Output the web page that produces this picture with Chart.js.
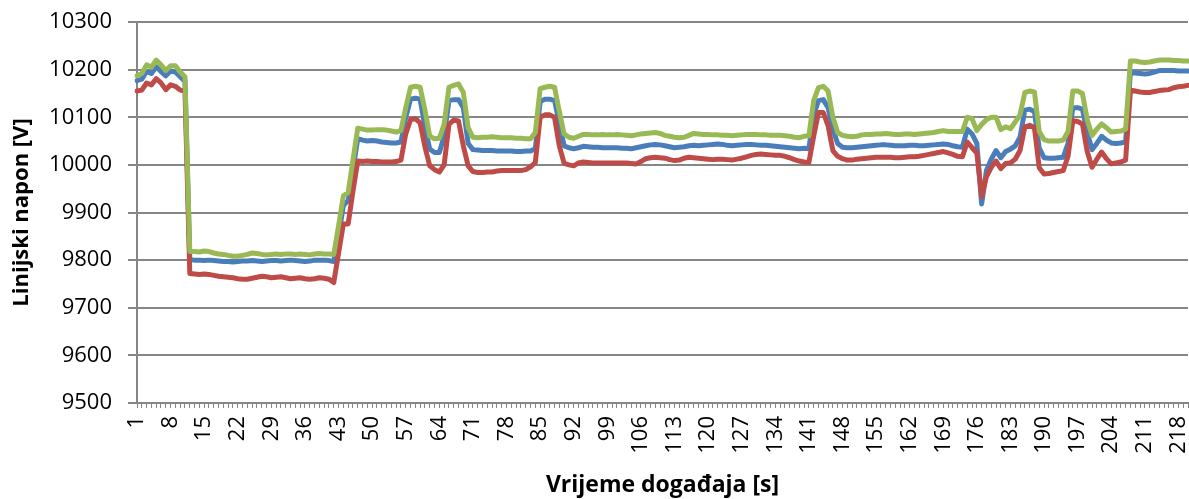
<!DOCTYPE html>
<html>
<head>
<meta charset="utf-8">
<script src="https://cdn.jsdelivr.net/npm/chart.js@4.4.1/dist/chart.umd.min.js"></script>
<style>
  html, body { margin: 0; padding: 0; background: #ffffff; }
  #wrap { width: 1189px; height: 499px; position: relative; }
</style>
</head>
<body>
<div id="wrap"><canvas id="chart"></canvas></div>
<script>
// Event time axis: one category per second, 1 .. 220
const seconds = [];
for (let s = 1; s <= 220; s++) seconds.push(String(s));

// Voltage ticks on the y axis
const yTicks = [9500, 9600, 9700, 9800, 9900, 10000, 10100, 10200, 10300];

// Line voltage, phase 1 (blue)
const naponL1 = [
  10177, 10180, 10196, 10192, 10206, 10196, 10187, 10197, 10195, 10185, 10175,
  9801, 9800, 9800, 9799, 9800, 9799, 9798, 9797, 9797, 9796,
  9797, 9798, 9798, 9799, 9798, 9797, 9798, 9799, 9799, 9798,
  9799, 9800, 9799, 9798, 9797, 9798, 9800, 9800, 9800, 9799, 9797,
  9850, 9915, 9925, 9990, 10055,
  10052, 10050, 10051, 10050, 10048, 10047, 10046, 10046, 10048,
  10100, 10138, 10140, 10138, 10080, 10033, 10026, 10026, 10060, 10135, 10137, 10137, 10120, 10045, 10032, 10031,
  10030, 10030, 10030, 10029, 10029, 10029, 10029, 10028, 10028, 10029, 10029,
  10034, 10133, 10138, 10138, 10135, 10088, 10040,
  10036, 10034, 10036, 10039, 10038, 10037, 10037, 10036, 10036, 10036,
  10036, 10035, 10035, 10034, 10036, 10038, 10040, 10042, 10043, 10042,
  10040, 10038, 10036, 10037, 10038, 10040, 10041, 10040, 10041, 10042,
  10043, 10044, 10043, 10041, 10040, 10041, 10042, 10043, 10043, 10042,
  10041, 10041, 10040, 10039, 10038, 10037, 10036, 10035, 10034, 10035, 10034,
  10105, 10135, 10137, 10120, 10075, 10045,
  10037, 10036, 10036, 10037, 10038, 10039, 10040, 10041, 10042, 10042,
  10041, 10040, 10040, 10040, 10041, 10041, 10040, 10040, 10041, 10042,
  10043, 10044, 10043, 10040, 10038,
  10037, 10075, 10065, 10045, 9918, 9988, 10012, 10030, 10015, 10028,
  10033, 10040, 10058, 10115, 10117, 10112, 10035, 10015, 10014, 10014,
  10015, 10016, 10045, 10120, 10120, 10117, 10068, 10032, 10045, 10060,
  10052, 10046, 10045, 10046, 10048,
  10195, 10193, 10192, 10191, 10192, 10195, 10198, 10198, 10198, 10198, 10197, 10197, 10197
];

// Line voltage, phase 2 (red)
const naponL2 = [
  10155, 10157, 10172, 10168, 10181, 10172, 10158, 10168, 10165, 10157, 10155,
  9772, 9771, 9770, 9771, 9770, 9768, 9766, 9765, 9764, 9763,
  9761, 9760, 9760, 9762, 9764, 9766, 9765, 9763, 9764, 9765,
  9763, 9761, 9762, 9763, 9761, 9760, 9761, 9763, 9762, 9760, 9753,
  9814, 9876, 9876, 9945, 10008,
  10007, 10008, 10007, 10007, 10006, 10006, 10006, 10007, 10010,
  10065, 10095, 10097, 10088, 10038, 9998, 9990, 9985, 10000, 10085, 10094, 10092, 10040, 9998, 9986, 9984,
  9984, 9985, 9985, 9987, 9988, 9988, 9988, 9988, 9988, 9990, 9996,
  10005, 10100, 10105, 10105, 10100, 10040, 10003,
  10000, 9998, 10004, 10006, 10005, 10004, 10004, 10004, 10004, 10004,
  10004, 10004, 10004, 10003, 10002, 10007, 10013, 10015, 10016, 10015,
  10014, 10011, 10009, 10010, 10014, 10016, 10015, 10014, 10013, 10012,
  10011, 10012, 10012, 10011, 10010, 10012, 10014, 10017, 10020, 10022,
  10023, 10022, 10021, 10020, 10020, 10018, 10015, 10011, 10008, 10006, 10005,
  10060, 10110, 10110, 10082, 10030, 10018,
  10013, 10010, 10010, 10012, 10013, 10014, 10015, 10016, 10016, 10016,
  10016, 10015, 10015, 10016, 10017, 10017, 10018, 10020, 10022, 10024,
  10026, 10028, 10025, 10022, 10018,
  10017, 10048, 10036, 10025, 9933, 9975, 9995, 10008, 9992, 10003,
  10004, 10012, 10030, 10080, 10083, 10078, 9994, 9981, 9982, 9984,
  9986, 9988, 10018, 10093, 10091, 10086, 10028, 9995, 10012, 10027,
  10013, 10002, 10004, 10006, 10010,
  10157, 10155, 10153, 10152, 10152, 10154, 10156, 10157, 10158, 10162, 10164, 10165, 10167
];

// Line voltage, phase 3 (green)
const naponL3 = [
  10187, 10192, 10210, 10205, 10220, 10210, 10198, 10208, 10208, 10195, 10185,
  9818, 9818, 9817, 9819, 9818, 9815, 9813, 9812, 9810, 9808,
  9808, 9810, 9812, 9815, 9814, 9812, 9811, 9812, 9813, 9812,
  9813, 9813, 9812, 9813, 9812, 9811, 9813, 9814, 9813, 9813, 9812,
  9872, 9935, 9942, 10010, 10077,
  10075, 10073, 10073, 10074, 10074, 10073, 10071, 10069, 10072,
  10120, 10163, 10165, 10163, 10115, 10060, 10055, 10056, 10085, 10163, 10167, 10170, 10152, 10078, 10058, 10057,
  10058, 10058, 10059, 10058, 10057, 10057, 10057, 10056, 10056, 10055, 10055,
  10068, 10160, 10163, 10165, 10163, 10112, 10065,
  10058, 10056, 10060, 10064, 10064, 10063, 10063, 10064, 10063, 10063,
  10064, 10063, 10062, 10061, 10063, 10065, 10066, 10067, 10068, 10066,
  10062, 10060, 10058, 10057, 10058, 10062, 10066, 10065, 10064, 10064,
  10063, 10063, 10062, 10062, 10061, 10062, 10063, 10064, 10064, 10064,
  10063, 10063, 10062, 10062, 10062, 10061, 10060, 10058, 10057, 10060, 10061,
  10135, 10162, 10165, 10155, 10100, 10068,
  10062, 10060, 10059, 10060, 10063, 10064, 10064, 10065, 10065, 10066,
  10065, 10064, 10064, 10065, 10065, 10064, 10065, 10066, 10067, 10068,
  10070, 10072, 10070, 10070, 10070,
  10070, 10100, 10097, 10072, 10085, 10095, 10100, 10100, 10074, 10080,
  10076, 10090, 10105, 10152, 10155, 10153, 10070, 10053, 10050, 10050,
  10050, 10052, 10070, 10155, 10155, 10150, 10095, 10062, 10075, 10086,
  10078, 10069, 10070, 10071, 10075,
  10218, 10218, 10216, 10215, 10216, 10218, 10220, 10220, 10220, 10219, 10219, 10218, 10218
];

const gridGray = '#868686';
const textFont = 'Open Sans';

const ctx = document.getElementById('chart').getContext('2d');
new Chart(ctx, {
  type: 'line',
  data: {
    labels: seconds,
    datasets: [
      { data: naponL1, borderColor: '#4A7EBB', order: 2 },
      { data: naponL2, borderColor: '#BE4B48', order: 1 },
      { data: naponL3, borderColor: '#98B954', order: 0 }
    ]
  },
  options: {
    responsive: true,
    maintainAspectRatio: false,
    animation: false,
    layout: { padding: { top: 22, right: 1, left: 0, bottom: 0 } },
    plugins: { legend: { display: false }, tooltip: { enabled: false } },
    elements: {
      point: { radius: 0 },
      line: { tension: 0, borderWidth: 5, borderJoinStyle: 'round', borderCapStyle: 'round', fill: false }
    },
    scales: {
      x: {
        offset: false,
        grid: { display: true, drawOnChartArea: false, drawTicks: true, tickLength: 5, color: gridGray, lineWidth: 1 },
        border: { display: true, color: gridGray, width: 2 },
        ticks: {
          autoSkip: false, maxRotation: 90, minRotation: 90, padding: 8,
          color: '#000000', font: { family: textFont, size: 22 },
          callback: (value, index) => (index % 7 === 0 ? seconds[index] : '')
        },
        title: {
          display: true, text: 'Vrijeme događaja [s]', color: '#000000',
          font: { family: textFont, size: 23, weight: 'bold' }, padding: { top: 2, bottom: 0 }
        },
        afterFit: (scale) => {
          scale.height = 96;
          scale.paddingLeft = 0;
          scale.paddingRight = 0;
        }
      },
      y: {
        min: yTicks[0],
        max: yTicks[yTicks.length - 1],
        afterBuildTicks: (scale) => { scale.ticks = yTicks.map(v => ({ value: v })); },
        grid: { color: gridGray, lineWidth: 2, tickLength: 9 },
        border: { display: true, color: gridGray, width: 2 },
        ticks: {
          padding: 16, color: '#000000', font: { family: textFont, size: 22 },
          callback: (value) => String(value)
        },
        title: {
          display: true, text: 'Linijski napon [V]', color: '#000000',
          font: { family: textFont, size: 22, weight: 'bold' }, padding: { top: 9, bottom: 0 }
        },
        afterFit: (scale) => {
          scale.width = 137;
          scale.paddingTop = 0;
          scale.paddingBottom = 0;
        }
      }
    }
  }
});
</script>
</body>
</html>
